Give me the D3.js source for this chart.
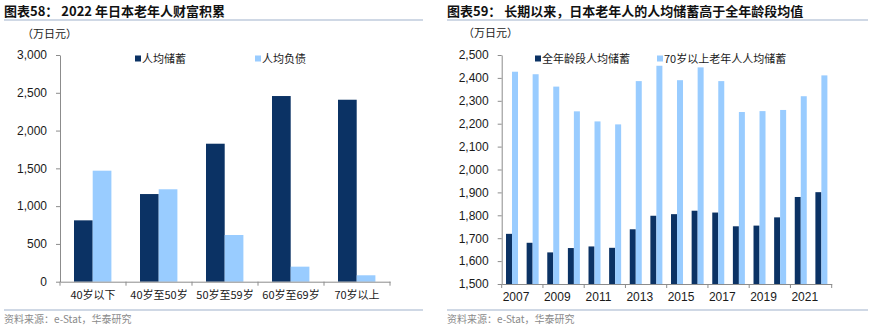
<!DOCTYPE html>
<html><head><meta charset="utf-8">
<script src="https://cdn.jsdelivr.net/npm/d3@7/dist/d3.min.js"></script>
<style>
body{margin:0;background:#fff;}
svg text{font-family:"Liberation Sans",Arial,"Noto Sans CJK SC",sans-serif;}
.cjk{font-family:"Noto Sans CJK SC",sans-serif;}
</style></head>
<body><svg id="c" width="870" height="332"></svg>
<script>
const ageCats = ["40岁以下","40岁至50岁","50岁至59岁","60岁至69岁","70岁以上"];
const savingsByAge = [812,1160,1826,2457,2408];
const debtByAge = [1469,1223,618,199,85];
const leftTicks = [0,500,1000,1500,2000,2500,3000];

const years = [2007,2008,2009,2010,2011,2012,2013,2014,2015,2016,2017,2018,2019,2020,2021,2022];
const allAgeSavings = [1719,1680,1638,1657,1664,1658,1739,1798,1805,1820,1812,1752,1755,1791,1880,1901];
const over70Savings = [2427,2416,2362,2254,2210,2197,2386,2453,2390,2446,2386,2251,2255,2260,2320,2411];
const rightTicks = [1500,1600,1700,1800,1900,2000,2100,2200,2300,2400,2500];
const yearLabels = [2007,2009,2011,2013,2015,2017,2019,2021];

const DARK = "#0B3264", LIGHT = "#99CCFF", AX = "#8c8c8c", TXT = "#1a1a1a";
const svg = d3.select("#c");
const fmt = d3.format(",");

function header(x0, x1, title){
  svg.append("text").attr("class","cjk").attr("x",x0).attr("y",16)
    .attr("font-size",13).attr("font-weight","bold").attr("fill","#111").text(title);
  svg.append("line").attr("x1",x0).attr("x2",x1).attr("y1",20).attr("y2",20)
    .attr("stroke","#9fb2cc").attr("stroke-width",1.2);
  svg.append("line").attr("x1",x0).attr("x2",x1).attr("y1",310).attr("y2",310)
    .attr("stroke","#9fb2cc").attr("stroke-width",1.2);
  svg.append("text").attr("class","cjk").attr("x",x0).attr("y",323)
    .attr("font-size",10).attr("fill","#8a8a8a").text("资料来源：e-Stat，华泰研究");
}
header(4, 423, "图表58：  2022 年日本老年人财富积累");
header(447, 868, "图表59：  长期以来，日本老年人的人均储蓄高于全年龄段均值");

function legendItem(x, y, color, label){
  svg.append("rect").attr("x",x).attr("y",y-3.5).attr("width",6).attr("height",6).attr("fill",color);
  svg.append("text").attr("class","cjk").attr("x",x+7).attr("y",y+4).attr("font-size",11).attr("fill",TXT).text(label);
}

// ---------- Left chart ----------
{
  const x = d3.scaleBand().domain(ageCats).range([60,390]).paddingInner(0).paddingOuter(0);
  const y = d3.scaleLinear().domain([0,3000]).range([281.7,55]);
  const g = svg.append("g");
  g.append("text").attr("class","cjk").attr("x",22).attr("y",38).attr("font-size",11).attr("fill",TXT).text("（万日元）");
  const ya = g.append("g").attr("transform","translate(60,0)")
    .call(d3.axisLeft(y).tickValues(leftTicks).tickFormat(fmt).tickSize(4).tickSizeOuter(0));
  ya.select(".domain").attr("stroke",AX);
  ya.selectAll(".tick line").attr("stroke",AX);
  ya.selectAll(".tick text").attr("font-size",12).attr("fill",TXT).attr("x",-13);
  const bw = 18.7, off = 14;
  ageCats.forEach((c,i)=>{
    g.append("rect").attr("x",x(c)+off).attr("width",bw).attr("y",y(savingsByAge[i])).attr("height",y(0)-y(savingsByAge[i])).attr("fill",DARK);
    g.append("rect").attr("x",x(c)+off+bw).attr("width",bw).attr("y",y(debtByAge[i])).attr("height",y(0)-y(debtByAge[i])).attr("fill",LIGHT);
  });
  const xa = g.append("g").attr("transform",`translate(0,${y(0)})`)
    .call(d3.axisBottom(x).tickSize(0).tickSizeOuter(0));
  xa.select(".domain").attr("stroke",AX);
  xa.selectAll(".tick text").attr("class","cjk").attr("font-size",11).attr("fill",TXT).attr("dy","1.3em");
  d3.range(ageCats.length+1).forEach(i=>{
    const xx = 60 + i*x.bandwidth();
    g.append("line").attr("x1",xx).attr("x2",xx).attr("y1",y(0)).attr("y2",y(0)+4).attr("stroke",AX);
  });
  legendItem(135, 59, DARK, "人均储蓄");
  legendItem(255, 59, LIGHT, "人均负债");
}

// ---------- Right chart ----------
{
  const x = d3.scaleBand().domain(years).range([501.7,831.7]);
  const y = d3.scaleLinear().domain([1500,2500]).range([284,55]);
  const g = svg.append("g");
  g.append("text").attr("class","cjk").attr("x",463).attr("y",37).attr("font-size",11).attr("fill",TXT).text("（万日元）");
  const ya = g.append("g").attr("transform","translate(501.7,0)")
    .call(d3.axisLeft(y).tickValues(rightTicks).tickFormat(fmt).tickSize(4).tickSizeOuter(0));
  ya.select(".domain").attr("stroke",AX);
  ya.selectAll(".tick line").attr("stroke",AX);
  ya.selectAll(".tick text").attr("font-size",12).attr("fill",TXT).attr("x",-13);
  const bw = 6, off = (x.bandwidth()-2*bw)/2;
  years.forEach((yr,i)=>{
    g.append("rect").attr("x",x(yr)+off).attr("width",bw).attr("y",y(allAgeSavings[i])).attr("height",y(1500)-y(allAgeSavings[i])).attr("fill",DARK);
    g.append("rect").attr("x",x(yr)+off+bw).attr("width",bw).attr("y",y(over70Savings[i])).attr("height",y(1500)-y(over70Savings[i])).attr("fill",LIGHT);
  });
  const xa = g.append("g").attr("transform",`translate(0,${y(1500)})`)
    .call(d3.axisBottom(x).tickValues(yearLabels).tickSize(0).tickSizeOuter(0));
  xa.select(".domain").attr("stroke",AX);
  xa.selectAll(".tick text").attr("font-size",12).attr("fill",TXT).attr("dy","1.2em")
    .attr("dx", 4);
  d3.range(0, years.length+1, 2).forEach(i=>{
    const xx = 501.7 + i*x.bandwidth();
    g.append("line").attr("x1",xx).attr("x2",xx).attr("y1",y(1500)).attr("y2",y(1500)+4).attr("stroke",AX);
  });
  legendItem(535, 59, DARK, "全年龄段人均储蓄");
  legendItem(657, 59, LIGHT, "70岁以上老年人人均储蓄");
}
</script></body></html>
